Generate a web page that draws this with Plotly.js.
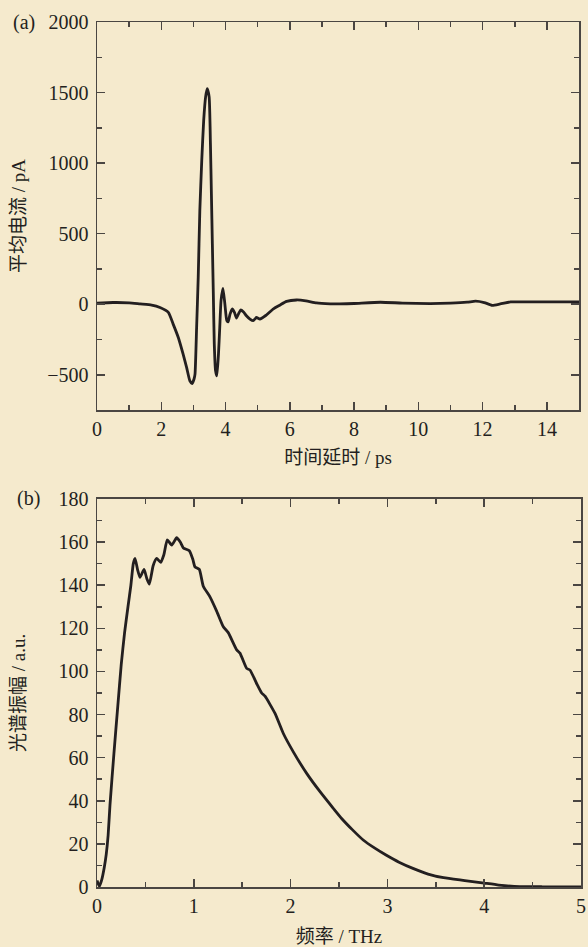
<!DOCTYPE html>
<html>
<head>
<meta charset="utf-8">
<script src="https://cdn.plot.ly/plotly-3.0.1.min.js"></script>
<style>
html,body{margin:0;padding:0;background:#F5EACD;}
#chart{width:588px;height:947px;}
</style>
</head>
<body>
<div id="chart"></div>
<script>
// (a) time-domain waveform: time delay (ps) vs average current (pA)
const timePs = [0, 0.5, 1.0, 1.34, 1.7, 1.96, 2.22, 2.37, 2.53, 2.68, 2.79, 2.89, 2.96, 3.02, 3.05, 3.10, 3.15, 3.20, 3.26, 3.32, 3.38, 3.43, 3.49, 3.53, 3.56, 3.59, 3.62, 3.65, 3.69, 3.73, 3.78, 3.82, 3.86, 3.92, 3.98, 4.04, 4.08, 4.14, 4.21, 4.28, 4.34, 4.40, 4.47, 4.56, 4.65, 4.76, 4.86, 4.96, 5.07, 5.25, 5.48, 5.70, 5.90, 6.21, 6.50, 6.83, 7.26, 7.55, 8.0, 8.82, 9.5, 10.37, 11.0, 11.52, 11.78, 12.05, 12.30, 12.55, 12.87, 13.5, 14.2, 15.0];
const currentPa = [8, 12, 10, 2, -6, -23, -58, -141, -236, -354, -449, -543, -562, -530, -496, -165, 190, 664, 1019, 1303, 1469, 1528, 1469, 1138, 783, 428, 72, -283, -472, -508, -354, -165, 25, 112, 1, -117, -125, -70, -34, -60, -98, -70, -41, -55, -82, -105, -117, -94, -105, -80, -34, -5, 20, 30, 24, 9, 3, 2, 5, 14, 8, 4, 7, 14, 22, 12, -8, 2, 16, 16, 16, 16];

// (b) spectrum: frequency (THz) vs spectral amplitude (a.u.)
const freqTHz = [0, 0.025, 0.05, 0.075, 0.095, 0.115, 0.134, 0.175, 0.215, 0.25, 0.285, 0.32, 0.35, 0.375, 0.393, 0.42, 0.444, 0.486, 0.515, 0.541, 0.58, 0.616, 0.658, 0.69, 0.726, 0.772, 0.823, 0.86, 0.892, 0.954, 0.99, 1.012, 1.057, 1.098, 1.167, 1.236, 1.305, 1.356, 1.443, 1.477, 1.546, 1.581, 1.649, 1.701, 1.736, 1.839, 1.925, 2.028, 2.166, 2.304, 2.441, 2.527, 2.64, 2.75, 2.87, 2.99, 3.12, 3.27, 3.42, 3.58, 3.80, 4.0, 4.15, 4.31, 4.6, 5.0];
const amplitude = [3, 0.3, 3.5, 9, 15, 24, 38, 62, 84, 103, 118, 130, 140, 150, 152.4, 147, 143.6, 147.3, 143, 140.5, 149, 152.4, 150.6, 154, 161, 158.6, 162, 160, 157.3, 156, 152, 148.5, 147.3, 139.5, 134.6, 128, 120.7, 118, 110, 108.5, 101.4, 100.6, 94.4, 90, 88.5, 80.5, 71.2, 62.7, 52.7, 44.2, 36.5, 31.8, 26.5, 21.8, 18, 14.7, 11.5, 8.5, 6, 4.3, 3, 1.8, 0.9, 0.3, 0.1, 0];

// axis labels
const panelLabels = ['(a)', '(b)'];
const xTitleA = '时间延时 / ps';
const yTitleA = '平均电流 / pA';
const xTitleB = '频率 / THz';
const yTitleB = '光谱振幅 / a.u.';

const FONT = 'Liberation Serif, "Times New Roman", "Noto Sans CJK SC", serif';
const BG = '#F5EACD';
const INK = '#231F20';
const AXC = '#4A4642';

function axisBase(extra) {
  return Object.assign({
    showline: true, linecolor: AXC, linewidth: 1.5, mirror: 'allticks',
    ticks: 'inside', ticklen: 8, tickwidth: 1.5, tickcolor: AXC,
    showgrid: false, zeroline: false,
    tickfont: {family: FONT, size: 20, color: '#231F20'},
    automargin: false
  }, extra);
}

const traces = [
  {x: timePs, y: currentPa, type: 'scatter', mode: 'lines', xaxis: 'x', yaxis: 'y',
   line: {color: INK, width: 2.8, shape: 'spline', smoothing: 0.5}, hoverinfo: 'skip'},
  {x: freqTHz, y: amplitude, type: 'scatter', mode: 'lines', xaxis: 'x2', yaxis: 'y2',
   line: {color: INK, width: 2.8, shape: 'spline', smoothing: 0.5}, hoverinfo: 'skip'}
];

const layout = {
  width: 588, height: 947,
  paper_bgcolor: BG, plot_bgcolor: BG,
  showlegend: false,
  margin: {l: 97, r: 7, t: 22, b: 60},
  font: {family: FONT, color: INK},
  xaxis: axisBase({domain: [0, 0.9959], anchor: 'y', range: [0, 15], dtick: 2, tick0: 0,
    minor: {dtick: 1, ticks: 'inside', ticklen: 5, tickwidth: 1.5, tickcolor: AXC},
    title: {text: xTitleA, font: {family: FONT, size: 19, color: INK}, standoff: 12}}),
  yaxis: axisBase({domain: [0.5514, 1], anchor: 'x', range: [-750, 2000], dtick: 500, tick0: 0,
    ticklabelstandoff: 3,
    minor: {dtick: 250, ticks: 'inside', ticklen: 5, tickwidth: 1.5, tickcolor: AXC},
    title: {text: yTitleA, font: {family: FONT, size: 19, color: INK}, standoff: 16}}),
  xaxis2: axisBase({domain: [0, 1], anchor: 'y2', range: [0, 5], dtick: 1, tick0: 0,
    minor: {dtick: 0.5, ticks: 'inside', ticklen: 5, tickwidth: 1.5, tickcolor: AXC},
    title: {text: xTitleB, font: {family: FONT, size: 19, color: INK}, standoff: 17}}),
  yaxis2: axisBase({domain: [0, 0.4486], anchor: 'x2', range: [0, 180], dtick: 20, tick0: 0,
    ticklabelstandoff: 3,
    minor: {dtick: 10, ticks: 'inside', ticklen: 5, tickwidth: 1.5, tickcolor: AXC},
    title: {text: yTitleB, font: {family: FONT, size: 19, color: INK}, standoff: 28}}),
  annotations: [
    {text: panelLabels[0], xref: 'paper', yref: 'paper', x: -0.151, y: 1, xanchor: 'center', yanchor: 'middle',
     showarrow: false, font: {family: FONT, size: 20, color: INK}},
    {text: panelLabels[1], xref: 'paper', yref: 'paper', x: -0.141, y: 0.4486, xanchor: 'center', yanchor: 'middle',
     showarrow: false, font: {family: FONT, size: 20, color: INK}}
  ]
};

Plotly.newPlot('chart', traces, layout, {staticPlot: true, displayModeBar: false});
</script>
</body>
</html>
